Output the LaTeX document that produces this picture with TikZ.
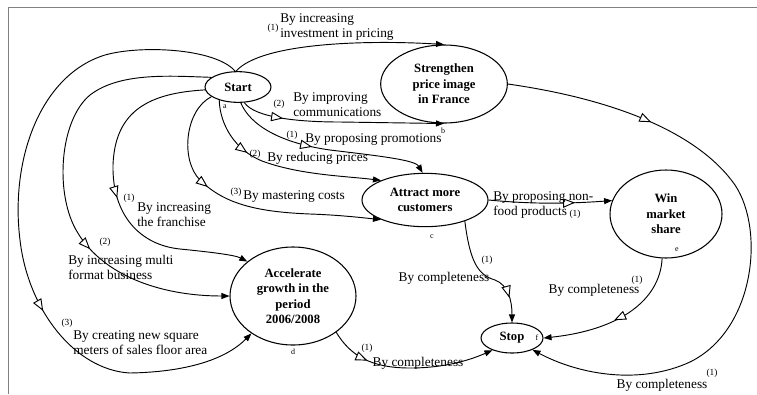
\documentclass[tikz,border=0pt]{standalone}
\usepackage{fontspec}
\setmainfont{Liberation Serif}
\usetikzlibrary{shapes.geometric,arrows.meta,decorations.markings}

\begin{document}
\begin{tikzpicture}[x=0.75pt,y=-0.75pt,
	goal/.style={draw,ellipse,line width=0.8pt,inner sep=0pt,align=center,font=\fontsize{9.5}{11.6}\selectfont\bfseries},
	link/.style={line width=0.7pt,-{Triangle[length=6pt,width=4.5pt]}},
	hollow/.style={postaction={decorate},decoration={markings,mark=at position #1 with {\arrow{Triangle[open,length=9pt,width=7pt,fill=white]}}}},
	lbl/.style={inner sep=0pt,align=left,font=\fontsize{10}{11.25}\selectfont},
	num/.style={inner sep=0pt,font=\fontsize{7}{8}\selectfont},
	tag/.style={inner sep=0pt,font=\fontsize{6}{7}\selectfont}]
		\useasboundingbox (0,0) rectangle (757,394);
		\draw[gray,line width=1.1pt] (8.5,394) -- (8.5,7.5) -- (757,7.5);
		% goals
		\node[goal,minimum width=49.5pt,minimum height=23pt] (st) at (238,87) {Start};
		\node[goal,minimum width=95pt,minimum height=58.5pt] (spi) at (444,84) {Strengthen\\price image\\in France};
		\node[goal,minimum width=94.5pt,minimum height=40pt] (amc) at (425,200) {Attract more\\customers};
		\node[goal,minimum width=84pt,minimum height=66pt] (wms) at (666,214) {Win\\market\\share};
		\node[goal,minimum width=94.5pt,minimum height=73.5pt] (agp) at (293,296) {Accelerate\\growth in the\\period\\2006/2008};
		\node[goal,minimum width=46.5pt,minimum height=22.5pt] (stp) at (512,338) {Stop};
		\node[tag] (ta) at (225,107) {a};
		\node[tag] (tb) at (443,131) {b};
		\node[tag] (tc) at (432,237) {c};
		\node[tag] (td) at (293,352) {d};
		\node[tag] (te) at (677,250) {e};
		\node[tag] (tf) at (537,338) {f};
		% links out of Start
		\draw[link] (st.97) .. controls (262,42) and (370,40) .. (spi.north);
		\draw[link,hollow=0.21] (st.292) .. controls (255,118) and (300,122) .. (340,122) -- (spi.south);
		\draw[link,hollow=0.43] (st.280) .. controls (250,125) and (280,143) .. (330,150) .. controls (380,156) and (415,160) .. (amc.95);
		\draw[link,hollow=0.31] (st.215) .. controls (220,125) and (235,150) .. (262,161) .. controls (300,175) and (345,176) .. (amc.156);
		\draw[link,hollow=0.37] (st.200) .. controls (185,110) and (180,160) .. (200,180) .. controls (225,205) and (260,212) .. (310,214) .. controls (340,215) and (365,218) .. (amc.204);
		\draw[link,hollow=0.52] (st.185) .. controls (150,93) and (115,110) .. (113,165) .. controls (112,215) and (140,245) .. (180,249) .. controls (210,252) and (235,255) .. (agp.143);
		\draw[link,hollow=0.66] (st.160) .. controls (170,76) and (120,72) .. (90,95) .. controls (60,120) and (55,190) .. (75,228) .. controls (100,275) and (160,296) .. (agp.west);
		\draw[link,hollow=0.64] (st.100) .. controls (215,48) and (140,45) .. (105,55) .. controls (40,75) and (10,160) .. (20,240) .. controls (28,310) and (75,370) .. (130,373) .. controls (185,372) and (225,360) .. (agp.222);
		% links to Stop
		\draw[link,hollow=0.24] (spi.east) .. controls (620,100) and (700,135) .. (735,185) .. controls (765,230) and (755,330) .. (690,362) .. controls (640,385) and (580,375) .. (stp.330);
		\draw[link,hollow=0.7] (amc.east) .. controls (530,204) and (565,204) .. (wms.166);
		\draw[link,hollow=0.79] (amc.-28) .. controls (470,262) and (478,275) .. (495,280) .. controls (508,285) and (512,300) .. (stp.north);
		\draw[link,hollow=0.53] (wms.265) .. controls (660,300) and (620,330) .. (stp.east);
		\draw[link,hollow=0.25] (agp.-40) .. controls (350,355) and (370,368) .. (410,368) .. controls (445,368) and (470,360) .. (stp.212);
		% labels
		\node[lbl,anchor=west] (l1) at (280,27) {By increasing\\investment in pricing};
		\node[num] (n1) at (273,28) {(1)};
		\node[lbl,anchor=west] (l2) at (293,104.5) {By improving\\communications};
		\node[num] (n2) at (279,104) {(2)};
		\node[lbl,anchor=west] (l3) at (305,140) {By proposing promotions};
		\node[num] (n3) at (292,135) {(1)};
		\node[lbl,anchor=west] (l4) at (267,158) {By reducing prices};
		\node[num] (n4) at (255,154) {(2)};
		\node[lbl,anchor=west] (l5) at (243,197) {By mastering costs};
		\node[num] (n5) at (236,192) {(3)};
		\node[lbl,anchor=west] (l6) at (137,215) {By increasing\\the franchise};
		\node[num] (n6) at (129,198) {(1)};
		\node[lbl,anchor=west] (l7) at (68,267) {By increasing multi\\format business};
		\node[num] (n7) at (105,242) {(2)};
		\node[lbl,anchor=west] (l8) at (73,343) {By creating new square\\meters of sales floor area};
		\node[num] (n8) at (67,323) {(3)};
		\node[lbl,anchor=west] (l9) at (493,204.5) {By proposing non-\\food products};
		\node[num] (n9) at (575,214) {(1)};
		\node[lbl] (l10) at (444,278) {By completeness};
		\node[num] (n10) at (487,260) {(1)};
		\node[lbl] (l11) at (594,290) {By completeness};
		\node[num] (n11) at (637,280) {(1)};
		\node[lbl] (l12) at (418,363) {By completeness};
		\node[num] (n12) at (367,348) {(1)};
		\node[lbl] (l13) at (662,385) {By completeness};
		\node[num] (n13) at (712,373) {(1)};
\end{tikzpicture}
\end{document}
